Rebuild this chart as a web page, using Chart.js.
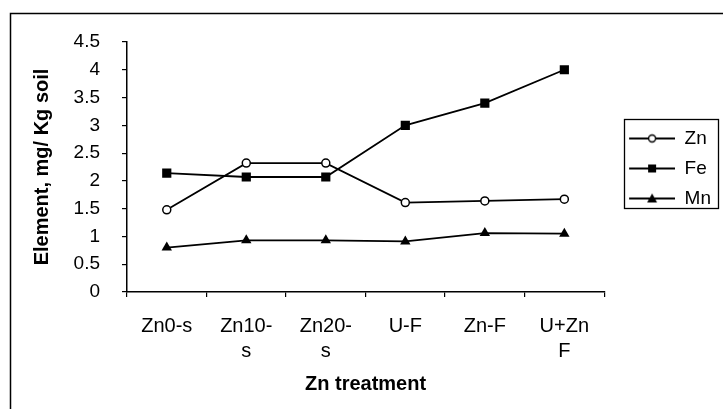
<!DOCTYPE html>
<html>
<head>
<meta charset="utf-8">
<script src="https://cdn.jsdelivr.net/npm/chart.js@4"></script>
<style>
  html, body { margin: 0; padding: 0; background: #fff; }
  #wrap { width: 723px; height: 409px; }
</style>
</head>
<body>
<div id="wrap"><canvas id="elementChart" width="723" height="409"></canvas></div>
<script>
const treatments = [["Zn0-s"], ["Zn10-", "s"], ["Zn20-", "s"], ["U-F"], ["Zn-F"], ["U+Zn", "F"]];
const znValues = [1.48, 2.32, 2.32, 1.61, 1.64, 1.67];
const feValues = [2.14, 2.07, 2.07, 3.0, 3.4, 4.0];
const mnValues = [0.8, 0.93, 0.93, 0.91, 1.06, 1.05];
const yTicks = [0, 0.5, 1, 1.5, 2, 2.5, 3, 3.5, 4, 4.5];

const FONT = "'Liberation Sans', Arial, sans-serif";

// little line+marker images for the legend
function legendSample(style) {
  const c = document.createElement("canvas");
  c.width = 60;
  c.height = 14;
  const g = c.getContext("2d");
  g.strokeStyle = "#000";
  g.fillStyle = "#000";
  g.lineWidth = 1.8;
  g.beginPath();
  g.moveTo(14, 7);
  g.lineTo(60, 7);
  g.stroke();
  const cx = 37;
  if (style === "circle") {
    g.fillStyle = "#fff";
    g.beginPath();
    g.arc(cx, 7, 3.5, 0, Math.PI * 2);
    g.fill();
    g.lineWidth = 1.4;
    g.stroke();
  } else if (style === "rect") {
    g.fillRect(cx - 4, 3, 8, 8);
  } else {
    g.beginPath();
    g.moveTo(cx, 2);
    g.lineTo(cx + 5, 11);
    g.lineTo(cx - 5, 11);
    g.closePath();
    g.fill();
  }
  return c;
}

const frame = {
  id: "frame",
  beforeDraw(chart) {
    const ctx = chart.ctx;
    ctx.save();
    ctx.fillStyle = "#fff";
    ctx.fillRect(0, 0, chart.width, chart.height);
    ctx.strokeStyle = "#000";
    ctx.lineWidth = 1.5;
    ctx.strokeRect(10.5, 13.5, 760, 440);
    ctx.restore();
  },
  afterLayout(chart) {
    // keep the legend block beside the upper middle of the plot
    chart.legend.bottom = 295;
  },
  afterDraw(chart) {
    const lg = chart.legend;
    const hb = lg.legendHitBoxes;
    if (!hb || !hb.length) return;
    const ctx = chart.ctx;
    const last = hb[hb.length - 1];
    ctx.save();
    ctx.strokeStyle = "#000";
    ctx.lineWidth = 1.3;
    const x0 = hb[0].left + 9;
    const y0 = hb[0].top - 10;
    ctx.strokeRect(Math.round(x0) + 0.5, Math.round(y0) + 0.5,
      Math.round(lg.right - 3 - x0), Math.round(last.top + last.height - y0));
    ctx.restore();
  }
};

const samples = { Zn: legendSample("circle"), Fe: legendSample("rect"), Mn: legendSample("triangle") };

new Chart(document.getElementById("elementChart"), {
  type: "line",
  data: {
    labels: treatments,
    datasets: [
      { label: "Zn", data: znValues, pointStyle: "circle", pointRadius: 4, pointBackgroundColor: "#fff", pointBorderWidth: 1.5 },
      { label: "Fe", data: feValues, pointStyle: "rect", pointRadius: 6.5, pointBackgroundColor: "#000", pointBorderWidth: 0 },
      { label: "Mn", data: mnValues, pointStyle: "triangle", pointRadius: 6, pointBackgroundColor: "#000", pointBorderWidth: 0 }
    ].map((d) => Object.assign({ borderColor: "#000", borderWidth: 1.8, pointBorderColor: "#000", tension: 0 }, d))
  },
  options: {
    responsive: false,
    animation: false,
    devicePixelRatio: 1,
    layout: { padding: { left: 14, right: 2, top: 42, bottom: 13 } },
    plugins: {
      tooltip: { enabled: false },
      legend: {
        position: "right",
        labels: {
          usePointStyle: true,
          pointStyleWidth: 60,
          padding: 11,
          color: "#000",
          font: { family: FONT, size: 19 },
          generateLabels: (chart) => chart.data.datasets.map((ds, i) => ({
            text: ds.label,
            pointStyle: samples[ds.label],
            fillStyle: "#000",
            strokeStyle: "#000",
            lineWidth: 0,
            hidden: false,
            datasetIndex: i
          }))
        }
      }
    },
    scales: {
      x: {
        offset: true,
        afterFit: (scale) => { scale.height = 104; },
        border: { color: "#000", width: 1.5 },
        grid: { display: true, offset: true, drawOnChartArea: false, drawTicks: true, tickLength: 5, color: "#000", lineWidth: 1.2 },
        ticks: { color: "#000", padding: 17, maxRotation: 0, autoSkip: false, font: { family: FONT, size: 20, lineHeight: 1.25 } },
        title: { display: true, text: "Zn treatment", color: "#000", padding: { top: 4, bottom: 0 }, font: { family: FONT, size: 20, weight: "bold" } }
      },
      y: {
        min: 0,
        max: 4.5,
        afterBuildTicks: (scale) => { scale.ticks = yTicks.map((v) => ({ value: v })); },
        afterFit: (scale) => { scale.width = 113; },
        border: { color: "#000", width: 1.5 },
        grid: { display: true, drawOnChartArea: false, drawTicks: true, tickLength: 5, color: "#000", lineWidth: 1.2 },
        ticks: { color: "#000", padding: 22, font: { family: FONT, size: 19 }, callback: (v) => String(v) },
        title: { display: true, text: "Element, mg/ Kg soil", color: "#000", padding: { top: 16, bottom: 0 }, font: { family: FONT, size: 20, weight: "bold" } }
      }
    }
  },
  plugins: [frame]
});
</script>
</body>
</html>
